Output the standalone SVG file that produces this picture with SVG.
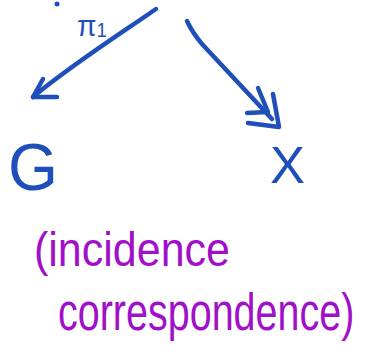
<svg xmlns="http://www.w3.org/2000/svg" width="372" height="360" viewBox="0 0 372 360">
<style>
.ink{fill:none;stroke:#1f4fb8;stroke-width:4.5;stroke-linecap:round;stroke-linejoin:round}
.blue{fill:#1f4fb8;font-family:"Liberation Sans",Arial,sans-serif}
.purple{fill:#a010c8;font-family:"Liberation Sans",Arial,sans-serif}
</style>
<rect width="372" height="360" fill="#ffffff"/>
<g id="top">
<circle cx="57" cy="4" r="2.5" fill="#1f4fb8"/>
</g>
<g id="connectors">
<g id="pi1">
<path class="ink" d="M156,9 C120,34 70,66 33,97"/>
<path class="ink" d="M43,79 L33,97 L57,97"/>
<text class="blue" x="77" y="36" font-size="30" textLength="30" lengthAdjust="spacingAndGlyphs">π<tspan font-size="20" dy="1">1</tspan></text>
</g>
<g id="surj">
<path class="ink" d="M187,21 Q192,32 202,44 L272,119" stroke-width="5.5"/>
<path class="ink" d="M258,88 L268,112 L247,113"/>
<path class="ink" d="M273,94 L279,127 L248,123"/>
</g>
</g>
<g id="G">
<text class="blue" x="8" y="190" font-size="66" textLength="50" lengthAdjust="spacingAndGlyphs">G</text>
</g>
<g id="X">
<text class="blue" x="270" y="183" font-size="52" textLength="35" lengthAdjust="spacingAndGlyphs">X</text>
</g>
<g id="label">
<text class="purple" transform="translate(34,266) scale(1,1.1)" font-size="43">(incidence</text>
<text class="purple" transform="translate(58,330) scale(1,1.3)" font-size="39.5">correspondence)</text>
</g>
</svg>
